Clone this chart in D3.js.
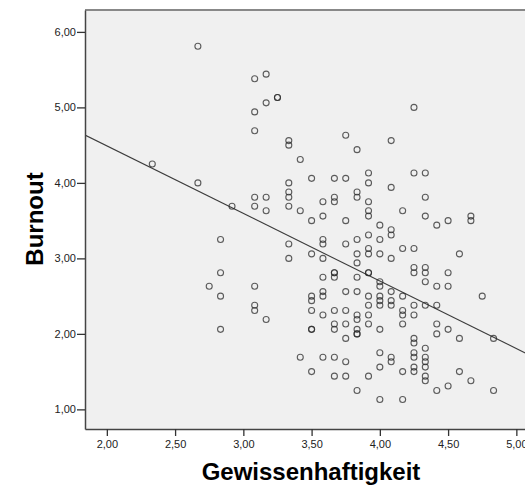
<!DOCTYPE html>
<html>
<head>
<meta charset="utf-8">
<script src="https://cdn.jsdelivr.net/npm/d3@7"></script>
<style>
    body { margin: 0; background: #fff; }
    svg { display: block; font-family: Arial, "Liberation Sans", sans-serif; }
    .axis text { font-size: 11px; fill: #222; }
    .axis line { stroke: #333; stroke-width: 1.3; }
    .axis path { stroke: #444; stroke-width: 1.5; }
    .titre { font-size: 24px; font-weight: bold; fill: #000; }
</style>
</head>
<body>
<svg width="525" height="485"></svg>
<script>
//Columns of Gewissenhaftigkeit (scale means)
var gewissenhaftigkeit = [2.333, 2.667, 2.75, 2.833, 2.917, 3.083, 3.167, 3.25, 3.333, 3.417, 3.5, 3.583,
    3.667, 3.75, 3.833, 3.917, 4.0, 4.083, 4.167, 4.25, 4.333, 4.417, 4.5, 4.583, 4.667, 4.75, 4.833];
//Burnout values of the persons in each column
var burnout = [
    [4.25],
    [5.81, 4.0],
    [2.63],
    [3.25, 2.81, 2.5, 2.06],
    [3.69],
    [5.38, 4.94, 4.69, 3.81, 3.69, 2.63, 2.38, 2.31],
    [5.44, 5.06, 3.81, 3.63, 2.19],
    [5.13, 5.13],
    [4.56, 4.5, 4.0, 3.88, 3.81, 3.69, 3.19, 3.0],
    [4.31, 3.63, 1.69],
    [4.06, 3.5, 3.06, 2.5, 2.44, 2.31, 2.06, 2.06, 1.5],
    [3.75, 3.56, 3.25, 3.19, 3.0, 2.75, 2.56, 2.5, 2.25, 1.69],
    [4.06, 3.81, 3.75, 2.81, 2.81, 2.75, 2.31, 2.13, 2.06, 1.69, 1.44],
    [4.63, 4.06, 3.5, 3.19, 2.56, 2.31, 2.13, 1.94, 1.63, 1.44],
    [4.44, 3.88, 3.81, 3.25, 3.06, 2.94, 2.75, 2.56, 2.25, 2.19, 2.06, 2.0, 2.0, 1.25],
    [4.13, 4.0, 3.75, 3.63, 3.56, 3.31, 3.13, 3.06, 2.81, 2.81, 2.5, 2.38, 2.25, 2.13, 1.44],
    [3.44, 3.25, 3.06, 2.69, 2.63, 2.5, 2.44, 2.38, 2.06, 1.75, 1.56, 1.13],
    [4.56, 3.94, 3.38, 3.31, 3.0, 2.56, 2.44, 2.38, 1.69, 1.63],
    [3.63, 3.13, 2.5, 2.31, 2.25, 2.13, 1.5, 1.13],
    [5.0, 4.13, 3.13, 2.88, 2.81, 2.38, 2.25, 1.94, 1.88, 1.75, 1.69, 1.56, 1.5],
    [4.13, 3.81, 3.56, 2.88, 2.81, 2.69, 2.38, 1.81, 1.69, 1.63, 1.56, 1.44, 1.38],
    [3.44, 2.63, 2.38, 2.13, 2.0, 1.25],
    [3.5, 2.81, 2.63, 2.06, 1.31],
    [3.06, 1.94, 1.5],
    [3.56, 3.5, 1.38],
    [2.5],
    [1.94, 1.25]
];
//Axis ticks
var ticksX = [2.0, 2.5, 3.0, 3.5, 4.0, 4.5, 5.0];
var ticksY = [1.0, 2.0, 3.0, 4.0, 5.0, 6.0];
//Linear fit line
var achsenabschnitt = 6.28;
var steigung = -0.895;

(function () {
    var svg = d3.select("svg");
    //Plot zone
    var gauche = 85, haut = 10, droite = 530, bas = 429;

    var echelleX = d3.scaleLinear().domain([1.84, 5.10]).range([gauche, droite]);
    var echelleY = d3.scaleLinear().domain([0.74, 6.29]).range([bas, haut]);

    //German decimal comma
    var locale = d3.formatLocale({decimal: ",", thousands: ".", grouping: [3], currency: ["", " €"]});
    var format = locale.format(".2f");

    //Flatten columns into points
    var points = [];
    gewissenhaftigkeit.forEach(function (x, i) {
        burnout[i].forEach(function (y) {
            points.push({x: x, y: y});
        });
    });

    svg.append("defs").append("clipPath").attr("id", "clip")
            .append("rect")
            .attr("x", gauche).attr("y", haut)
            .attr("width", droite - gauche).attr("height", bas - haut);

    //Background
    svg.append("rect")
            .attr("x", gauche).attr("y", haut)
            .attr("width", droite - gauche).attr("height", bas - haut)
            .attr("fill", "#f0f0f0");

    var zone = svg.append("g").attr("clip-path", "url(#clip)");

    //Fit line
    var domaine = echelleX.domain();
    zone.append("line")
            .attr("x1", echelleX(domaine[0]))
            .attr("y1", echelleY(achsenabschnitt + steigung * domaine[0]))
            .attr("x2", echelleX(domaine[1]))
            .attr("y2", echelleY(achsenabschnitt + steigung * domaine[1]))
            .attr("stroke", "#3c3c3c")
            .attr("stroke-width", 1.1);

    //Points
    zone.selectAll(".point")
            .data(points)
            .enter().append("circle")
            .attr("class", "point")
            .attr("cx", d => echelleX(d.x))
            .attr("cy", d => echelleY(d.y))
            .attr("r", 3)
            .attr("fill", "none")
            .attr("stroke", "#2a2a2a")
            .attr("stroke-opacity", 0.75)
            .attr("stroke-width", 1.1);

    //Top frame
    svg.append("line")
            .attr("x1", gauche).attr("x2", droite)
            .attr("y1", haut).attr("y2", haut)
            .attr("stroke", "#888")
            .attr("stroke-width", 2);

    //Axes
    svg.append("g")
            .attr("class", "axis")
            .attr("transform", "translate(0," + bas + ")")
            .call(d3.axisBottom(echelleX).tickValues(ticksX).tickFormat(format)
                    .tickSize(7).tickSizeOuter(0).tickPadding(4));

    svg.append("g")
            .attr("class", "axis")
            .attr("transform", "translate(" + gauche + ",0)")
            .call(d3.axisLeft(echelleY).tickValues(ticksY).tickFormat(format)
                    .tickSize(8).tickSizeOuter(0).tickPadding(1));

    //Titles
    svg.append("text")
            .attr("class", "titre")
            .attr("text-anchor", "middle")
            .attr("transform", "translate(43,219) rotate(-90)")
            .text("Burnout");

    svg.append("text")
            .attr("class", "titre")
            .attr("text-anchor", "middle")
            .attr("x", 311).attr("y", 480)
            .text("Gewissenhaftigkeit");
})();
</script>
</body>
</html>
